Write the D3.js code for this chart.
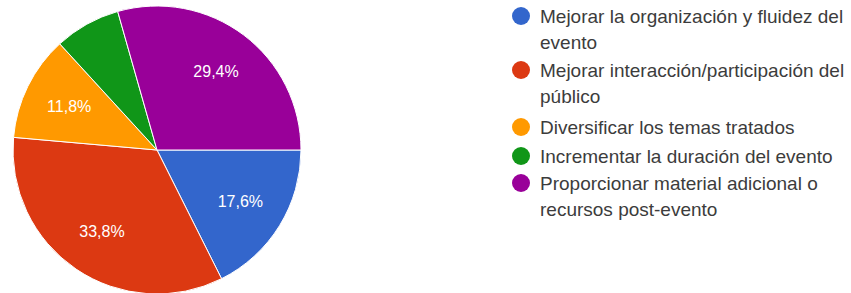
<!DOCTYPE html>
<html>
<head>
<meta charset="utf-8">
<script src="https://cdn.jsdelivr.net/npm/d3@7"></script>
<style>
body { margin: 0; background: #fff; }
text { font-family: "Liberation Sans", Arial, sans-serif; }
</style>
</head>
<body>
<div id="chart"></div>
<script>
// data
var categories = [
  "Mejorar la organización y fluidez del evento",
  "Mejorar interacción/participación del público",
  "Diversificar los temas tratados",
  "Incrementar la duración del evento",
  "Proporcionar material adicional o recursos post-evento"
];
var legendLines = [
  ["Mejorar la organización y fluidez del", "evento"],
  ["Mejorar interacción/participación del", "público"],
  ["Diversificar los temas tratados"],
  ["Incrementar la duración del evento"],
  ["Proporcionar material adicional o", "recursos post-evento"]
];
var values = [17.6, 33.8, 11.8, 7.4, 29.4];
var colors = ["#3366cc", "#dc3912", "#ff9900", "#109618", "#990099"];

var width = 851, height = 293;
var cx = 157, cy = 150, radius = 144;

var svg = d3.select("#chart")
  .append("svg")
    .attr("width", width)
    .attr("height", height);

var g = svg.append("g")
  .attr("transform", "translate(" + cx + "," + cy + ")");

var pie = d3.pie()
  .sort(null)
  .value(function(d) { return d; })
  .startAngle(Math.PI / 2)
  .endAngle(Math.PI / 2 + 2 * Math.PI);

var arc = d3.arc().innerRadius(0).outerRadius(radius);
var labelArc = d3.arc().innerRadius(radius * 0.68).outerRadius(radius * 0.68);

var arcs = pie(values);

g.selectAll("path")
  .data(arcs)
  .enter()
  .append("path")
  .attr("d", arc)
  .attr("fill", function(d, i) { return colors[i]; })
  .attr("stroke", "#fff")
  .attr("stroke-width", 1);

// only slices big enough get a label
g.selectAll("text.lbl")
  .data(arcs.filter(function(d) { return d.value >= 10; }))
  .enter()
  .append("text")
  .attr("class", "lbl")
  .attr("transform", function(d) { return "translate(" + labelArc.centroid(d) + ")"; })
  .attr("text-anchor", "middle")
  .attr("dy", "0.35em")
  .attr("fill", "#fff")
  .style("font-size", "16px")
  .text(function(d) { return d.value.toFixed(1).replace(".", ",") + "%"; });

// legend
var legendY = [16, 70, 127, 156, 183];
var legend = svg.append("g");

categories.forEach(function(c, i) {
  var row = legend.append("g")
    .attr("transform", "translate(0," + legendY[i] + ")");
  row.append("circle")
    .attr("cx", 521)
    .attr("cy", 0)
    .attr("r", 9)
    .attr("fill", colors[i]);
  row.append("text")
    .attr("x", 540)
    .attr("y", 0)
    .attr("fill", "#3c3c3c")
    .style("font-size", "19px")
    .selectAll("tspan")
    .data(legendLines[i])
    .enter()
    .append("tspan")
    .attr("x", 540)
    .attr("dy", function(d, j) { return j === 0 ? "0.35em" : "26px"; })
    .text(function(d) { return d; });
});
</script>
</body>
</html>
